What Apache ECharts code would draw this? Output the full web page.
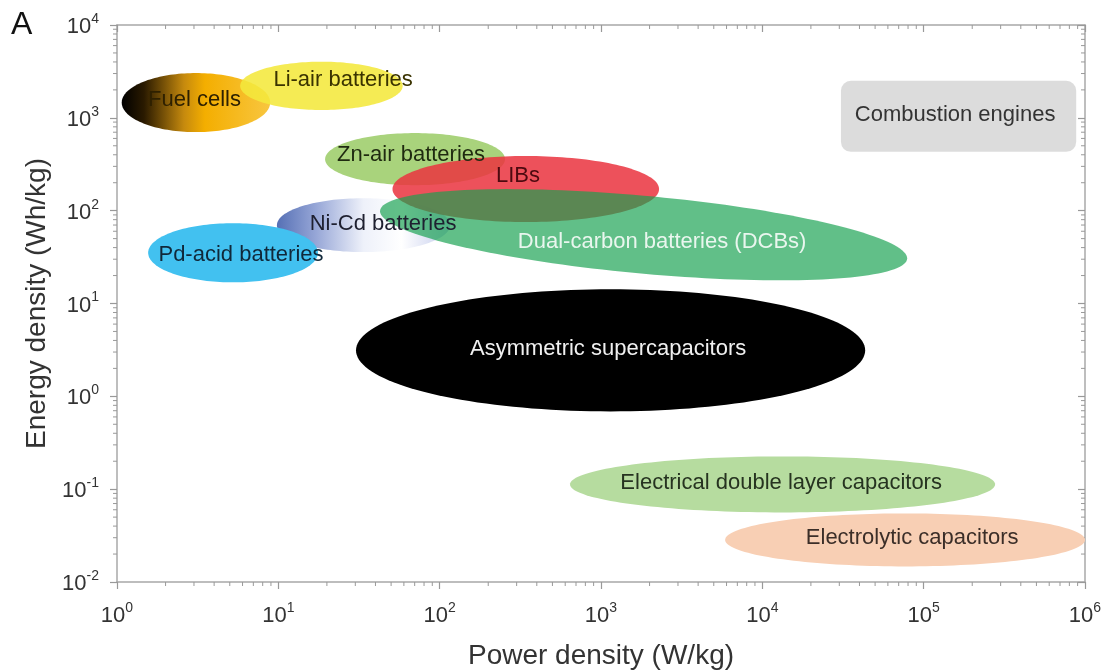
<!DOCTYPE html>
<html><head><meta charset="utf-8">
<script src="https://cdn.jsdelivr.net/npm/echarts@6/dist/echarts.min.js"></script>
<style>html,body{margin:0;padding:0;background:#fff}#c{width:1109px;height:672px}</style>
</head><body><div id="c"></div>
<script>
// ---- data (power density W/kg, energy density Wh/kg) ----
const categories = ['Fuel cells','Li-air batteries','Ni-Cd batteries','Pd-acid batteries','Zn-air batteries','LIBs',
  'Dual-carbon batteries (DCBs)','Asymmetric supercapacitors','Electrical double layer capacitors','Electrolytic capacitors'];
const powerLow       = [1.07, 5.8, 9.8, 1.56, 19.5, 51, 42.7, 30.3, 643, 5880];
const powerHigh      = [8.9, 59, 116, 17.6, 254, 2290, 79000, 43400, 277000, 1000000];
const energyTipLeft  = [1460, 2210, 69.8, 35.2, 359, 171, 98.8, 3.13, 0.1125, 0.0284];
const energyTipRight = [1460, 2210, 69.8, 35.2, 359, 171, 30.7, 3.13, 0.1125, 0.0284];
const energyLow      = [702, 1212, 35.7, 16.9, 188, 75.2, 20.9, 0.706, 0.0561, 0.0147];
const energyHigh     = [3038, 4018, 136, 73.3, 685, 387, 145, 14.6, 0.2254, 0.0547];
const combustionName = 'Combustion engines';
const combustionPower = [30700, 882000];
const combustionEnergy = [430, 2510];
// label anchors (data units)
const labelTexts  = ['Fuel cells','Li-air batteries','Ni-Cd batteries','Pd-acid batteries','Zn-air batteries','LIBs',
  'Dual-carbon batteries (DCBs)','Asymmetric supercapacitors','Electrical double layer capacitors','Electrolytic capacitors','Combustion engines'];
const labelPower  = [3.02, 25.2, 44.6, 5.87, 66.5, 306, 2393, 1107, 13080, 84900, 156700];
const labelEnergy = [1554, 2553, 71.5, 33.1, 396, 235, 45.7, 3.21, 0.118, 0.0302, 1071];
const xRange = [1, 1000000];
const yRange = [0.01, 10000];

// ---- styles ----
const FONT = '"Liberation Sans", Arial, Helvetica, sans-serif';
const fills = [
  new echarts.graphic.LinearGradient(0,0,1,0,[{offset:0,color:'#000000'},{offset:0.15,color:'#2a1a00'},{offset:0.42,color:'#c68a0e'},{offset:0.56,color:'#f4ae00'},{offset:1,color:'#f8c640'}]),
  'rgba(244,232,60,0.88)',
  new echarts.graphic.LinearGradient(0,0,1,0,[{offset:0,color:'#5670b5'},{offset:0.22,color:'#95a5d6'},{offset:0.5,color:'#eef1fa'},{offset:0.72,color:'#ffffff'},{offset:1,color:'#c3cbec'}]),
  '#42c1f0',
  '#a9d37c',
  'rgba(234,52,64,0.86)',
  'rgba(22,160,80,0.68)',
  '#000000',
  '#b6dc9f',
  '#f8cfb4'
];
const labelColors = ['#2e2000','#3a3300','#1e2030','#10283a','#1f2a10','#4d0a10','#e9f6ee','#f0f0f0','#263320','#3b2e28','#333333'];

const chart = echarts.init(document.getElementById('c'), null, {renderer:'canvas'});

function tickFmt(v){ return '{b|10}{s|' + Math.round(Math.log10(v)) + '}'; }
const rich = {
  b:{fontSize:22, fontFamily:FONT, color:'#333', lineHeight:26, verticalAlign:'bottom'},
  s:{fontSize:14, fontFamily:FONT, color:'#333', lineHeight:26, verticalAlign:'top'}
};
const axisLineStyle = {color:'#a8a8a8', width:1.5};
const tickStyle = {color:'#999', width:1.2};

function ellipseItem(params, api){
  const i = params.dataIndex;
  const L = api.coord([powerLow[i], energyTipLeft[i]]);
  const R = api.coord([powerHigh[i], energyTipRight[i]]);
  const pc = Math.sqrt(powerLow[i]*powerHigh[i]);
  const T = api.coord([pc, energyHigh[i]]);
  const B = api.coord([pc, energyLow[i]]);
  const cx=(L[0]+R[0])/2, cy=(L[1]+R[1])/2;
  const ux=(R[0]-L[0])/2, uy=(R[1]-L[1])/2, vy=(B[1]-T[1])/2;
  const pts=[];
  for(let k=0;k<160;k++){
    const t=k/160*Math.PI*2;
    pts.push([cx+ux*Math.cos(t), cy+uy*Math.cos(t)+vy*Math.sin(t)]);
  }
  return {type:'polygon', shape:{points:pts}, style:{fill:fills[i], stroke:null}};
}

function minorTicks(params, api){
  const children=[];
  const st={stroke:'#999', lineWidth:1};
  for(let d=0; d<6; d++){
    for(let m=2;m<=9;m++){
      const v=m*Math.pow(10,d);
      const pB=api.coord([v,yRange[0]]); const pT=api.coord([v,yRange[1]]);
      children.push({type:'line', shape:{x1:pB[0],y1:pB[1],x2:pB[0],y2:pB[1]+4}, style:st});
      children.push({type:'line', shape:{x1:pT[0],y1:pT[1],x2:pT[0],y2:pT[1]+4}, style:st});
    }
  }
  for(let d=-2; d<4; d++){
    for(let m=2;m<=9;m++){
      const v=m*Math.pow(10,d);
      const pL=api.coord([xRange[0],v]); const pR=api.coord([xRange[1],v]);
      children.push({type:'line', shape:{x1:pL[0]-4,y1:pL[1],x2:pL[0],y2:pL[1]}, style:st});
      children.push({type:'line', shape:{x1:pR[0]-4,y1:pR[1],x2:pR[0],y2:pR[1]}, style:st});
    }
  }
  return {type:'group', children};
}

const option = {
  backgroundColor:'#fff',
  animation:false,
  grid:{left:117, right:24, top:25, bottom:90, containLabel:false, outerBoundsMode:'none'},
  graphic:[{type:'text', left:11, top:9, style:{text:'A', font:'32px '+FONT, fill:'#111'}}],
  xAxis:[
    {type:'log', logBase:10, min:xRange[0], max:xRange[1], splitNumber:6, position:'bottom',
     name:'Power density (W/kg)', nameLocation:'middle', nameGap:60,
     nameTextStyle:{fontSize:28, fontFamily:FONT, color:'#333'},
     axisLine:{show:true, lineStyle:axisLineStyle}, axisTick:{show:true, inside:false, length:7, lineStyle:tickStyle},
     axisLabel:{formatter:tickFmt, rich, margin:19}, splitLine:{show:false}, minorTick:{show:false}},
    {type:'log', logBase:10, min:xRange[0], max:xRange[1], splitNumber:6, position:'top',
     axisLine:{show:true, lineStyle:axisLineStyle}, axisTick:{show:true, inside:true, length:7, lineStyle:tickStyle},
     axisLabel:{show:false}, splitLine:{show:false}}
  ],
  yAxis:[
    {type:'log', logBase:10, min:yRange[0], max:yRange[1], splitNumber:6, position:'left',
     name:'Energy density (Wh/kg)', nameLocation:'middle', nameGap:66,
     nameTextStyle:{fontSize:28, fontFamily:FONT, color:'#333'},
     axisLine:{show:true, lineStyle:axisLineStyle}, axisTick:{show:true, inside:false, length:7, lineStyle:tickStyle},
     axisLabel:{formatter:tickFmt, rich, margin:18}, splitLine:{show:false}},
    {type:'log', logBase:10, min:yRange[0], max:yRange[1], splitNumber:6, position:'right',
     axisLine:{show:true, lineStyle:axisLineStyle}, axisTick:{show:true, inside:true, length:7, lineStyle:tickStyle},
     axisLabel:{show:false}, splitLine:{show:false}}
  ],
  series:[
    {type:'custom', name:'ticks', xAxisIndex:0, yAxisIndex:0, silent:true, clip:false,
     data:[[1,1]], renderItem:minorTicks, z:1},
    {type:'custom', name:'regions', xAxisIndex:0, yAxisIndex:0, clip:true, silent:true,
     data:categories.map((n,i)=>[Math.sqrt(powerLow[i]*powerHigh[i]), Math.sqrt(energyLow[i]*energyHigh[i]), n]),
     encode:{x:0,y:1}, renderItem:ellipseItem, z:2},
    {type:'custom', name:'combustion', xAxisIndex:0, yAxisIndex:0, clip:true, silent:true,
     data:[[combustionPower[0], combustionEnergy[0], combustionName]], encode:{x:0,y:1},
     renderItem:function(params, api){
       const a=api.coord([combustionPower[0], combustionEnergy[1]]);
       const b=api.coord([combustionPower[1], combustionEnergy[0]]);
       return {type:'rect', shape:{x:a[0], y:a[1], width:b[0]-a[0], height:b[1]-a[1], r:10}, style:{fill:'#dcdcdc'}};
     }, z:3},
    {type:'custom', name:'labels', xAxisIndex:0, yAxisIndex:0, clip:false, silent:true,
     data:labelTexts.map((t,i)=>[labelPower[i], labelEnergy[i], t]), encode:{x:0,y:1},
     renderItem:function(params, api){
       const i=params.dataIndex;
       const p=api.coord([labelPower[i], labelEnergy[i]]);
       return {type:'text', x:p[0], y:p[1], style:{text:labelTexts[i], fill:labelColors[i], font:'22px '+FONT, align:'center', verticalAlign:'middle'}};
     }, z:5}
  ]
};
chart.setOption(option);
</script></body></html>
